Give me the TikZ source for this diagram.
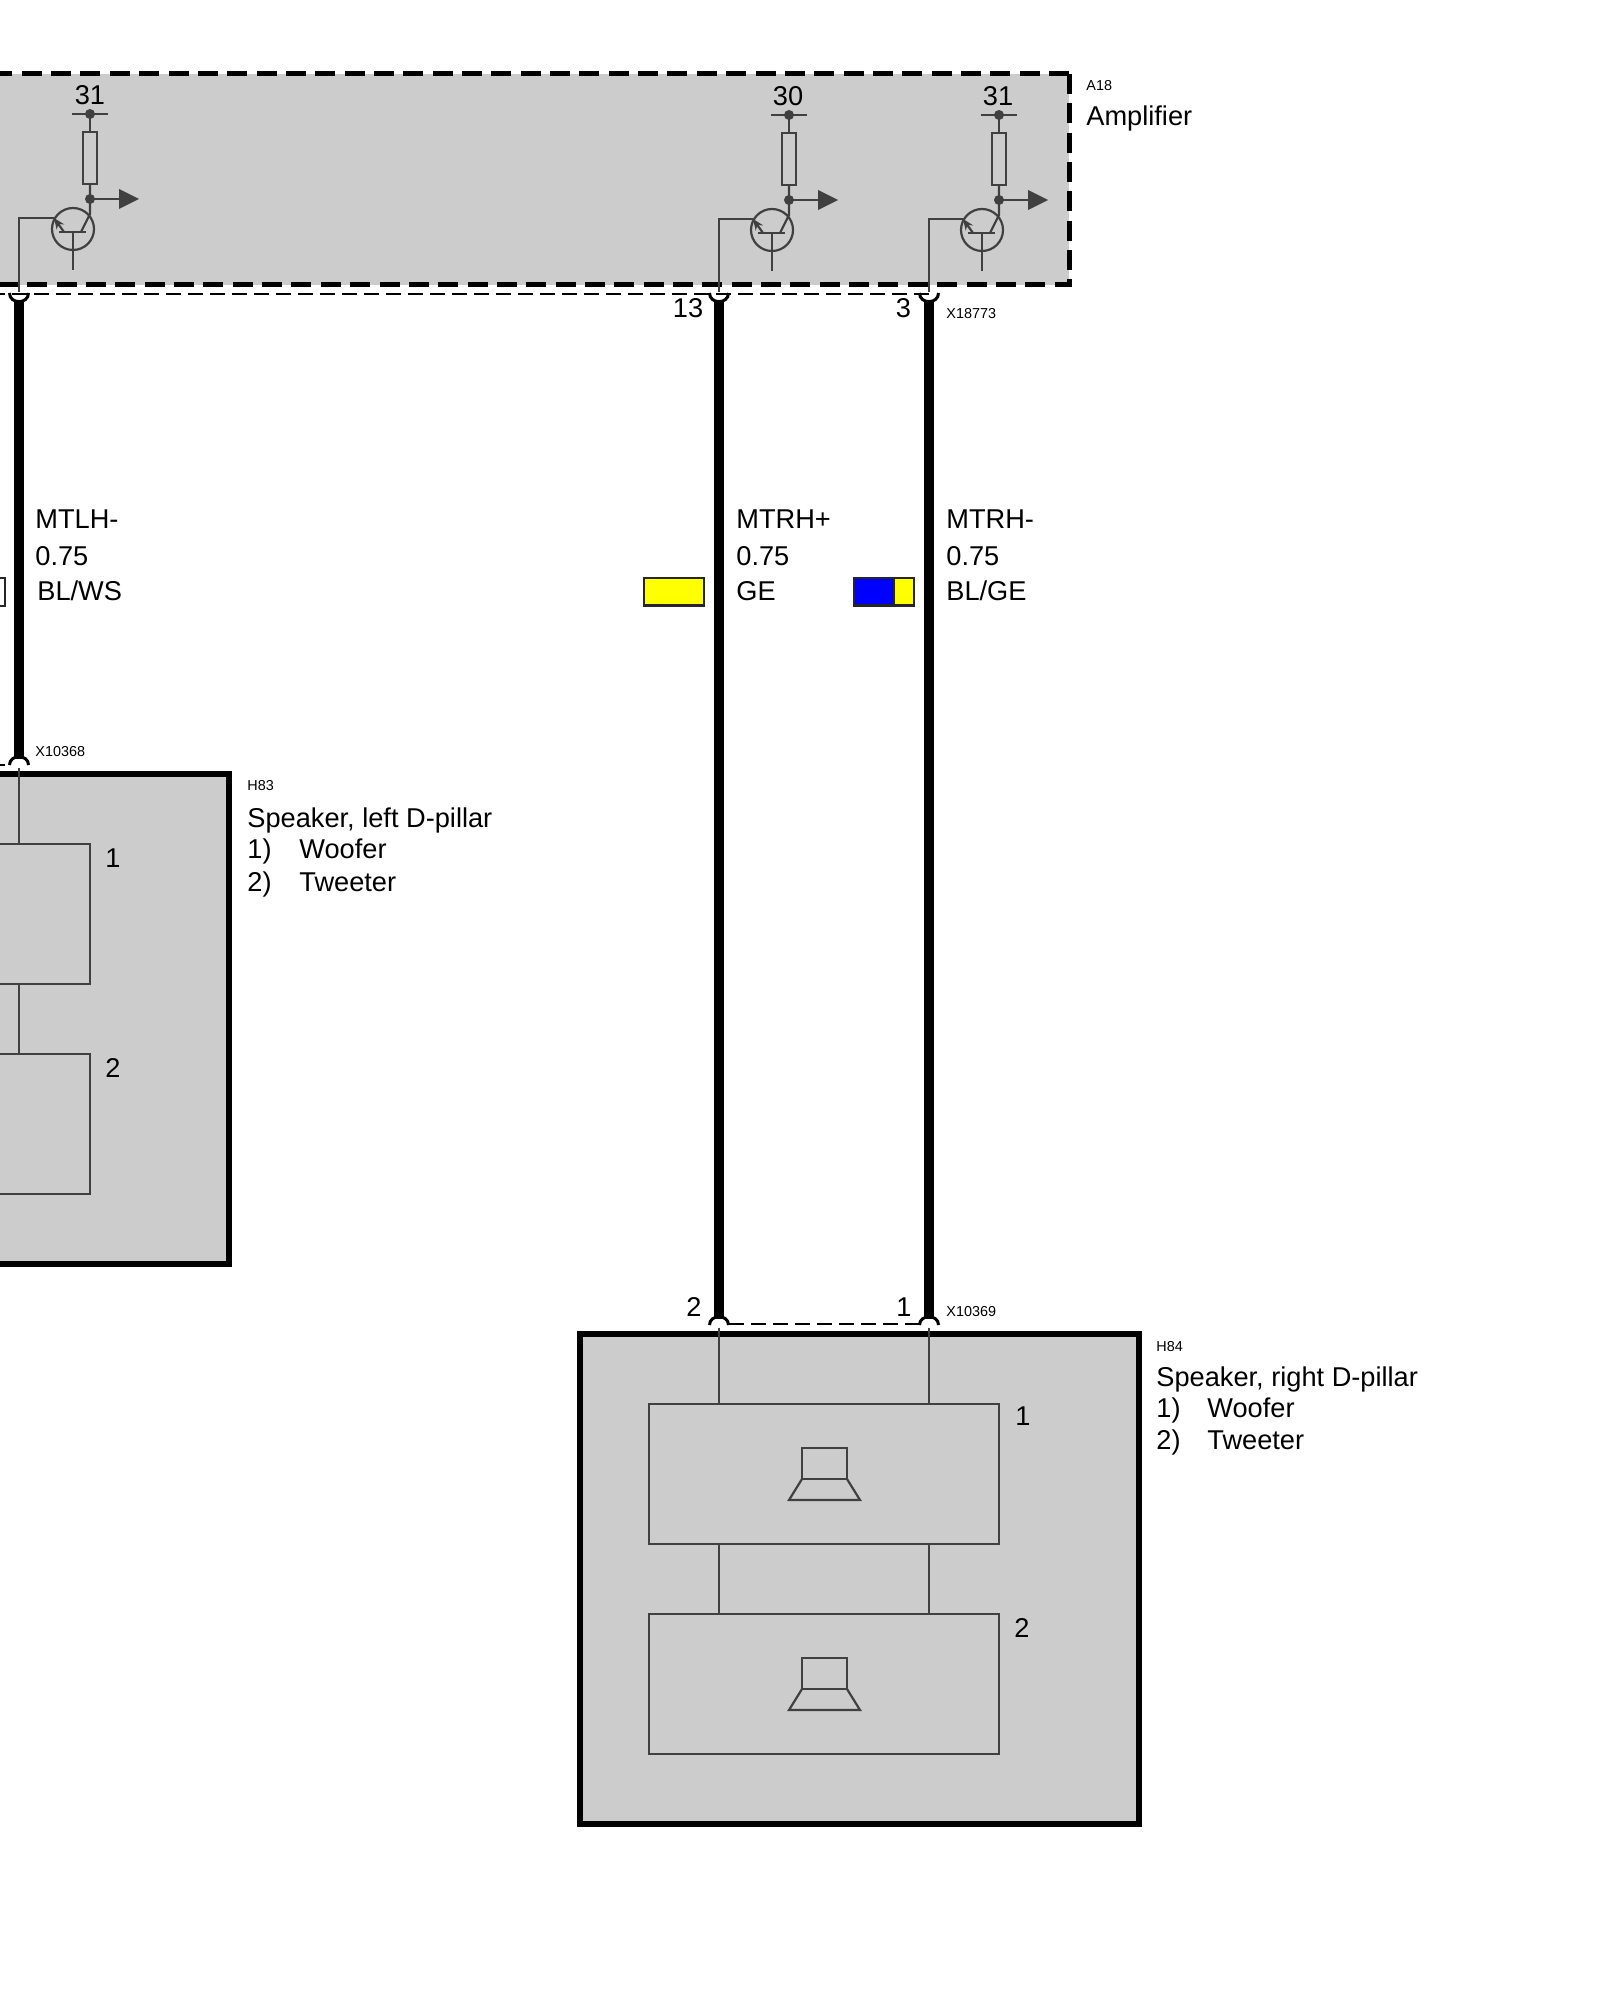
\documentclass[tikz,border=0pt]{standalone}
\usepackage{fontspec}
\setmainfont{Liberation Sans}
\usetikzlibrary{arrows.meta}
\definecolor{boxgray}{HTML}{CCCCCC}
\definecolor{linegray}{HTML}{404040}
\definecolor{ge}{RGB}{255,255,0}
\definecolor{bl}{RGB}{0,0,255}
\tikzset{
  txt/.style={inner sep=0pt,anchor=base west,font=\fontsize{13.6pt}{16pt}\selectfont},
  num/.style={txt,anchor=base},
  tiny/.style={txt,font=\fontsize{7.2pt}{9pt}\selectfont},
  thinline/.style={draw=linegray,line width=1.1pt},
  frame/.style={draw=black,line width=2.6pt,fill=boxgray},
  wirebar/.style={draw=black,line width=5.2pt},
  fork/.style={draw=black,line width=1.5pt},
  shield/.style={draw=black,line width=0.9pt,dash pattern=on 7.5pt off 3.5pt},
  ampdash/.style={draw=black,line width=2.5pt,dash pattern=on 10pt off 4.675pt},
  swatch/.style={draw=black!85,line width=1.1pt}
}
\begin{document}
\begin{tikzpicture}[x=0.5pt,y=-0.5pt]
  \path[use as bounding box,clip] (0,0) rectangle (1600,2000);
  % amplifier
  \fill[boxgray] (-10,74) rectangle (1069,285);
  \draw[ampdash] (1069,74) -- (-10,74);
  \draw[ampdash] (1069,74) -- (1069,285) -- (-10,285);
  \node[tiny] (a18) at (1086,91) {A18};
  \node[txt] (amplifier) at (1086,126) {Amplifier};
  \draw[shield] (-10,294) -- (929,294);
  % output stages
  \foreach \s/\dx/\ty/\lab/\lx/\wx in {a/90/114/31/90/19,b/789/115/30/788/719,c/999/115/31/998/929}{
    \node[num] (sup\s) at (\lx,\ty-9) {\lab};
    \coordinate (pin\s) at (\wx,292);
    \coordinate (em\s) at (\dx-36,\ty+104);
    \coordinate (mid\s) at (\dx,\ty+85);
    \draw[thinline] (\dx-18,\ty) -- (\dx+18,\ty);
    \draw[thinline] (\dx,\ty) -- (\dx,\ty+18);
    \draw[thinline] (\dx-7,\ty+18) rectangle (\dx+7,\ty+70);
    \draw[thinline] (\dx,\ty+70) -- (mid\s) -- (\dx,\ty+100) -- (\dx-9,\ty+118);
    \fill[linegray] (\dx,\ty) circle [radius=5];
    \fill[linegray] (mid\s) circle [radius=5];
    \draw[thinline] (mid\s) -- (\dx+30,\ty+85);
    \fill[linegray] (\dx+29,\ty+75) -- (\dx+49,\ty+85) -- (\dx+29,\ty+95) -- cycle;
    \draw[thinline] (\dx-17,\ty+115) circle [radius=21];
    \draw[thinline] (\dx-31,\ty+118) -- (\dx-4,\ty+118);
    \draw[thinline] (\dx-17,\ty+118) -- (\dx-17,\ty+156);
    \draw[thinline] (pin\s) |- (em\s);
    \draw[thinline,-{Stealth[length=5.5pt,width=4.5pt]}] (\dx-26,\ty+118) -- (em\s);
  }
  % wires
  \coordinate (x13) at (719,300);
  \coordinate (x3) at (929,300);
  \coordinate (xl) at (19,300);
  \coordinate (y2) at (719,1319);
  \coordinate (y1) at (929,1319);
  \coordinate (yl) at (19,759);
  \draw[wirebar] (xl) -- (yl);
  \draw[wirebar] (x13) -- (y2);
  \draw[wirebar] (x3) -- (y1);
  \foreach \wx in {19,719,929}
    \draw[fork] (\wx-9.5,293) .. controls (\wx-9.5,304.5) and (\wx+9.5,304.5) .. (\wx+9.5,293);
  \node[num] (p13) at (688,318) {13};
  \node[num] (p3) at (903.5,318) {3};
  \node[tiny] (x18773) at (946,319) {X18773};
  % wire labels
  \node[txt] (mtlh) at (35,528) {MTLH-};
  \node[txt] (mtlhsize) at (35,565) {0.75};
  \node[txt] (mtlhcol) at (37,600) {BL/WS};
  \node[txt] (mtrp) at (736,528) {MTRH+};
  \node[txt] (mtrpsize) at (736,565) {0.75};
  \node[txt] (mtrpcol) at (736,600) {GE};
  \node[txt] (mtrm) at (946,528) {MTRH-};
  \node[txt] (mtrmsize) at (946,565) {0.75};
  \node[txt] (mtrmcol) at (946,600) {BL/GE};
  \draw[swatch,fill=white] (-20,578) rectangle (5,606);
  \draw[swatch,fill=ge] (644,578) rectangle (704,605.5);
  \draw[swatch,fill=ge] (854,578) rectangle (914,605.5);
  \draw[swatch,fill=bl] (854,578) rectangle (894,605.5);
  % speaker left
  \draw[frame] (-10,774) rectangle (229,1264);
  \draw[thinline] (-10,844) -- (90,844) -- (90,984) -- (-10,984);
  \draw[thinline] (-10,1054) -- (90,1054) -- (90,1194) -- (-10,1194);
  \coordinate (tl1) at (19,768);
  \draw[thinline] (tl1) -- (19,844);
  \draw[thinline] (19,984) -- (19,1054);
  \draw[shield] (-10,765) -- (9,765);
  \draw[fork] (9.5,765) .. controls (9.5,754) and (28.5,754) .. (28.5,765);
  \node[tiny] (x10368) at (35,756) {X10368};
  \node[num] (l1) at (113,867) {1};
  \node[num] (l2) at (113,1077) {2};
  \node[tiny] (h83) at (247,790) {H83};
  \node[txt] (h83name) at (247,827) {Speaker, left D-pillar};
  \node[txt] (h83a) at (247,858) {1)};
  \node[txt] (h83b) at (299,858) {Woofer};
  \node[txt] (h83c) at (247,891) {2)};
  \node[txt] (h83d) at (299,891) {Tweeter};
  % speaker right
  \draw[frame] (580,1334) rectangle (1139,1824);
  \draw[thinline] (649,1404) rectangle (999,1544);
  \draw[thinline] (649,1614) rectangle (999,1754);
  \foreach \wx in {719,929}{
    \draw[thinline] (\wx,1328) -- (\wx,1404);
    \draw[thinline] (\wx,1544) -- (\wx,1614);
  }
  \foreach \sy in {1448,1658}{
    \draw[thinline] (802,\sy) rectangle (847,\sy+31);
    \draw[thinline] (802,\sy+31) -- (789,\sy+52) -- (860,\sy+52) -- (847,\sy+31);
  }
  \draw[shield] (729,1324) -- (919,1324);
  \foreach \wx in {719,929}
    \draw[fork] (\wx-9.5,1325) .. controls (\wx-9.5,1314) and (\wx+9.5,1314) .. (\wx+9.5,1325);
  \node[num] (q2) at (694,1316) {2};
  \node[num] (q1) at (904,1316) {1};
  \node[tiny] (x10369) at (946,1316) {X10369};
  \node[num] (r1) at (1023,1425) {1};
  \node[num] (r2) at (1022,1637) {2};
  \node[tiny] (h84) at (1156,1351) {H84};
  \node[txt] (h84name) at (1156,1386) {Speaker, right D-pillar};
  \node[txt] (h84a) at (1156,1417) {1)};
  \node[txt] (h84b) at (1207,1417) {Woofer};
  \node[txt] (h84c) at (1156,1449) {2)};
  \node[txt] (h84d) at (1207,1449) {Tweeter};
\end{tikzpicture}
\end{document}
